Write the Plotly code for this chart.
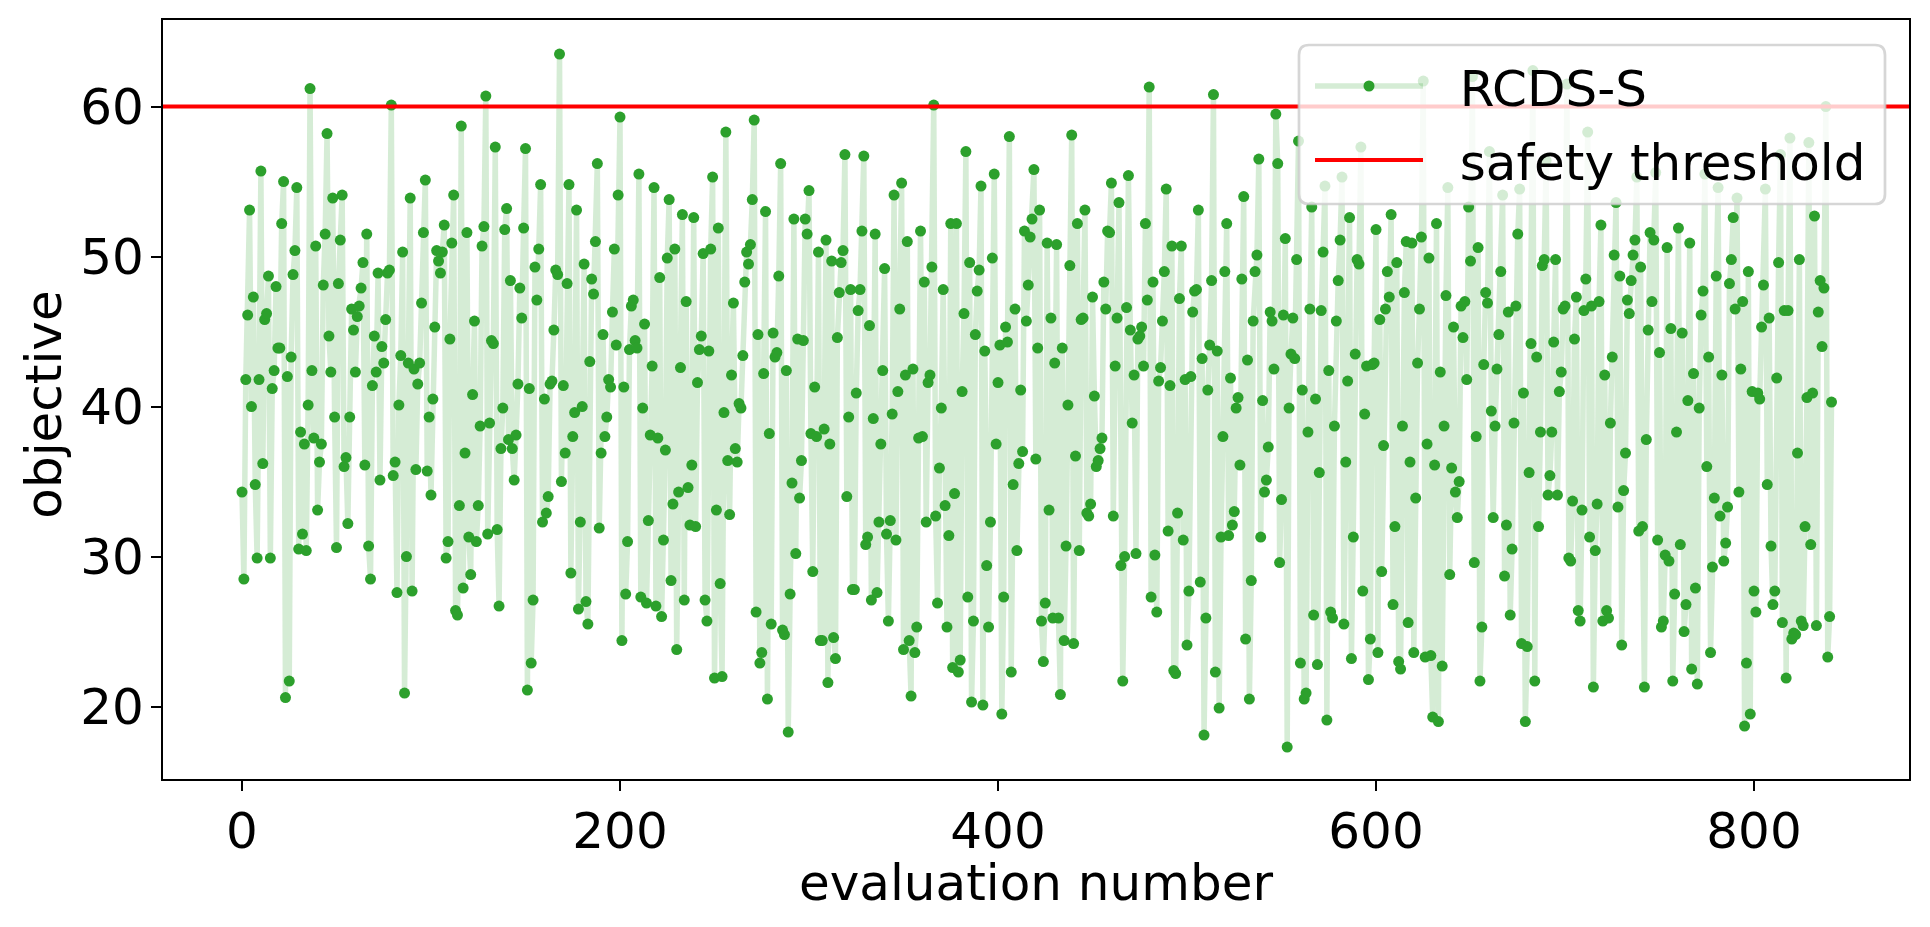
import plotly.graph_objects as go

objective_a = [34.3,28.5,41.8,46.1,53.1,40.0,47.3,34.8,29.9,41.8,55.7,36.2,45.8,46.2,48.7,29.9,41.2,42.4,48.0,43.9,43.9,52.2,55.0,20.6,42.0,21.7,43.3,48.8,50.4,54.6,30.5,38.3,31.5,37.5,30.4,40.1,61.2,42.4,37.9,50.7,33.1,36.3,37.5,48.1,51.5,58.2,44.7,42.3,53.9,39.3,30.6,48.2,51.1,54.1,36.0,36.6,32.2,39.3,46.5,45.1,42.3,46.0,46.7,47.9,49.6,36.1,51.5,30.7,28.5,41.4,44.7,42.3,48.9,35.1,44.0,42.9,45.8,48.9,49.1,60.1,35.4,36.3,27.6,40.1,43.4,50.3,20.9,30.0,42.9,53.9,27.7,42.5,35.8,41.5,42.9,46.9,51.6,55.1,35.7,39.3,34.1,40.5,45.3,50.4,49.7,48.9,50.3,52.1,29.9,31.0,44.5,50.9,54.1,26.4,26.1,33.4,58.7,27.9,36.9,51.6,31.3,28.8,40.8,45.7,31.0,33.4,38.7,50.7,52.0,60.7,31.5,38.9,44.4,44.2,57.3,31.8,26.7,37.2,39.9,51.8,53.2,37.8,48.4,37.2,35.1,38.1,41.5,47.9,45.9,51.9,57.2,21.1,41.2,22.9,27.1,49.3,47.1,50.5,54.8,32.3,40.5,32.9,34.0,41.5,41.7,45.1,49.1,48.8,63.5,35.0,41.4,36.9,48.2,54.8,28.9,38.0,39.6,53.1,26.5,32.3,40.0,49.5,27.0,25.5,43.0,48.5,47.5,51.0,56.2,31.9,36.9,44.8,38.0]
objective_b = [39.3,41.8,41.3,46.3,50.5,44.1,54.1,59.3,24.4,41.3,27.5,31.0,43.8,46.7,47.1,44.4,43.9,55.5,27.3,39.9,45.5,26.9,32.4,38.1,42.7,54.6,26.7,37.9,48.6,26.0,31.1,37.1,49.9,53.8,28.4,33.5,50.5,23.8,34.3,42.6,52.8,27.1,47.0,34.6,32.1,36.1,52.6,32.0,41.6,43.8,44.7,50.2,27.1,25.7,43.7,50.5,55.3,21.9,33.1,51.9,28.2,22.0,39.6,58.3,36.4,32.8,42.1,46.9,37.2,36.3,40.2,39.9,43.4,48.3,50.3,49.5,50.8,53.8,59.1,26.3,44.8,22.9,23.6,42.2,53.0,20.5,38.2,25.5,44.9,43.3,43.6,48.7,56.2,25.1,24.8,42.4,18.3,27.5,34.9,52.5,30.2,44.5,33.9,36.4,44.4,52.5,51.5,54.4,38.2,29.0,41.3,38.0,50.3,24.4,24.4,38.5,51.1,21.6,37.5,49.7,24.6,23.2,44.6,47.6,49.6,50.4,56.8,34.0,39.3,47.8,27.8,27.8,40.9,46.4,47.8,51.7,56.7,30.8,31.3,45.4,27.1,39.2,51.5,27.6,32.3,37.5,42.4,49.2,31.5,25.7,32.4,39.5,54.1,31.1,41.0,46.5,54.9,23.8,42.1,51.0,24.4,20.7,42.5,23.6,25.3,37.9,51.7,38.0,48.3,32.3,41.6,42.1,49.3,60.1,32.7,26.9,35.9,39.9,47.8,33.4,25.3,31.4,52.2,22.6,34.2,52.2,22.3,23.1,41.0,46.2,57.0,27.3,49.6,20.3,25.7,44.8,47.7,49.1,54.7,20.1,43.7,29.4,25.3,32.3,49.9,55.5,37.5,41.6,44.1,19.5,27.3,45.3,44.3,58.0,22.3,34.8,46.5,30.4,36.2,41.1,37.0,51.7,45.7,48.1,51.3,52.5,55.8,36.5,43.9,53.1]
objective_c = [25.7,23.0,26.9,50.9,33.1,45.9,25.9,42.9,50.8,25.9,20.8,43.9,24.4,30.7,40.1,49.4,58.1,24.2,36.7,52.2,30.4,45.8,45.9,53.1,32.9,32.7,33.5,47.3,40.7,36.0,36.4,37.2,37.9,48.3,46.5,51.7,51.6,54.9,32.7,42.7,45.9,53.6,29.4,21.7,30.0,46.6,55.4,45.1,38.9,42.1,30.2,44.5,44.7,45.3,42.7,52.2,47.1,61.3,27.3,48.3,30.1,26.3,41.7,42.6,45.7,49.0,54.5,31.7,41.4,50.7,22.4,22.2,32.9,47.2,50.7,31.1,41.8,24.1,27.7,42.0,46.3,47.7,47.8,53.1,28.3,43.2,18.1,25.9,41.1,44.1,48.4,60.8,22.3,43.7,19.9,31.3,38.0,49.0,52.2,31.4,41.9,32.1,33.0,39.9,40.6,36.1,48.5,54.0,24.5,43.1,20.5,28.4,45.7,49.0,50.1,56.5,31.3,40.4,34.3,35.1,37.3,46.3,45.7,42.5,59.5,56.2,29.6,33.8,46.1,51.2,17.3,39.9,43.5,45.9,43.2,49.8,57.7,22.9,41.1,20.5,20.9,38.3,46.5,53.3,26.1,40.5,22.8,35.6,46.4,50.3,54.7,19.1,42.4,26.3,25.9,38.7,45.7,48.4,51.1,55.3,25.5,36.3,41.7,52.6,23.2,31.3,43.5,49.8,49.5,57.3,27.7,39.5,42.7,21.8,24.5,42.8,42.9,51.8,23.6,45.8,29.0,37.4,46.5,49.0,47.3,52.8,26.8,32.0,49.6,23.0,22.5,38.7,47.6,51.0,25.6,36.3,50.9,23.6,33.9,42.9,46.5,51.3,61.7,23.3,37.5,49.9,23.4,19.3,36.1,52.2,19.0,42.3,22.7,38.7,47.4,54.6,28.8,35.9,45.3,34.3,32.6,35.0,46.7,44.6,47.0,41.8,53.3,49.7]
objective_d = [62.0,29.6,38.0,50.6,21.7,25.3,42.8,47.6,46.9,57.0,39.7,32.6,38.7,42.5,44.8,49.0,54.1,28.7,32.1,46.3,26.1,30.5,38.9,46.7,51.5,54.5,24.2,40.9,19.0,24.0,35.6,44.2,62.4,21.7,43.3,32.0,38.3,49.4,49.8,56.4,34.1,35.4,38.3,44.3,49.8,34.1,41.0,42.3,46.5,46.7,61.5,29.9,29.7,33.7,44.5,47.3,26.4,25.7,33.1,46.4,48.5,58.3,31.3,46.7,21.3,30.4,33.5,47.0,52.1,25.7,42.1,26.4,25.9,38.9,43.3,50.1,53.6,33.3,48.7,24.1,34.4,36.9,47.1,46.2,48.4,50.1,51.1,55.3,31.7,49.3,32.0,21.3,37.8,45.1,51.6,47.0,51.1,55.6,31.1,43.6,25.3,25.7,30.1,50.6,29.7,45.2,21.7,27.5,38.3,51.9,30.8,44.9,25.0,26.8,40.4,50.9,22.5,42.2,27.9,21.5,39.9,46.1,47.7,55.5,36.0,43.3,23.6,29.3,33.9,48.7,54.6,32.7,42.1,29.7,30.9,33.3,48.2,49.8,52.6,46.5,53.9,34.3,42.5,47.0,18.7,22.9,49.0,19.5,41.0,27.7,26.3,40.9,40.5,45.3,48.1,54.5,34.8,45.9,30.7,26.8,27.7,41.9,49.6,56.8,25.6,46.4,21.9,46.4,57.9,24.5,24.9,24.8,36.9,49.8,25.7,25.4,32.0,40.6,57.6,30.8,40.9,52.7,25.4,46.3,48.4,44.0,47.9,60.0,23.3,26.0,40.3]

objective = objective_a + objective_b + objective_c + objective_d
evaluation = list(range(len(objective)))
threshold = 60
x_ticks = [0, 200, 400, 600, 800]
y_ticks = [20, 30, 40, 50, 60]

FONT = "DejaVu Sans"
FS = 50
W, H = 1930, 927
L, R, T, B = 163, 21, 20, 148
PW, PH = W - L - R, H - T - B
x_range = [-41.8, 882.0]
y_range = [15.17, 65.77]


def px(x):
    return (x - L) / PW


def py(y):
    return (H - B - y) / PH


def rounded(x0, y0, x1, y1, r):
    return (
        f"M {px(x0 + r)} {py(y0)} L {px(x1 - r)} {py(y0)} Q {px(x1)} {py(y0)} {px(x1)} {py(y0 + r)} "
        f"L {px(x1)} {py(y1 - r)} Q {px(x1)} {py(y1)} {px(x1 - r)} {py(y1)} "
        f"L {px(x0 + r)} {py(y1)} Q {px(x0)} {py(y1)} {px(x0)} {py(y1 - r)} "
        f"L {px(x0)} {py(y0 + r)} Q {px(x0)} {py(y0)} {px(x0 + r)} {py(y0)} Z"
    )


fig = go.Figure()
fig.add_trace(go.Scatter(
    x=evaluation, y=objective, name="\u00a0\u00a0RCDS-S", mode="lines+markers", legendgroup="a",
    line=dict(color="rgba(44,160,44,0.2)", width=5.5),
    marker=dict(color="#2ca02c", size=11),
))
fig.add_trace(go.Scatter(
    x=x_range, y=[threshold, threshold], name="\u00a0\u00a0safety threshold", mode="lines", legendgroup="b",
    line=dict(color="#ff0000", width=4),
))
fig.add_shape(
    type="path", xref="paper", yref="paper", layer="above",
    path=rounded(1299, 45, 1885, 204, 10),
    fillcolor="rgba(255,255,255,0.8)", line=dict(color="rgba(204,204,204,0.8)", width=2.7),
)
axis = dict(
    showgrid=False, zeroline=False, showline=True, mirror=True, linecolor="black", linewidth=2.2,
    ticks="outside", ticklen=10, tickwidth=2.2, tickcolor="black", ticklabelstandoff=-3,
    tickfont=dict(family=FONT, size=FS, color="black"),
)
fig.update_layout(
    width=W, height=H, autosize=False,
    margin=dict(l=L, r=R, t=T, b=B, pad=0),
    paper_bgcolor="white", plot_bgcolor="white",
    font=dict(family=FONT, color="black"),
    xaxis=dict(axis, range=x_range, tickvals=x_ticks,
               title=dict(text="evaluation number", font=dict(family=FONT, size=FS, color="black"), standoff=0)),
    yaxis=dict(axis, range=y_range, tickvals=y_ticks,
               title=dict(text="objective", font=dict(family=FONT, size=FS, color="black"), standoff=4)),
    legend=dict(
        x=px(1310), y=py(47), xanchor="left", yanchor="top",
        bgcolor="rgba(0,0,0,0)", borderwidth=0,
        font=dict(family=FONT, size=FS, color="black"),
        itemwidth=108, tracegroupgap=6, itemclick=False,
    ),
)
nudge = """
document.body.style.margin='0';document.body.style.overflow='hidden';
function nudge(sel, dx, dy){
  var el = document.querySelector(sel);
  if(el){ el.setAttribute('transform', 'translate('+dx+','+dy+') ' + (el.getAttribute('transform') || '')); }
}
nudge('.xtitle', 0, -6);
nudge('.ytitle', 1, 5);
"""
fig.write_html("out.html", config={"displayModeBar": False}, post_script=nudge)
